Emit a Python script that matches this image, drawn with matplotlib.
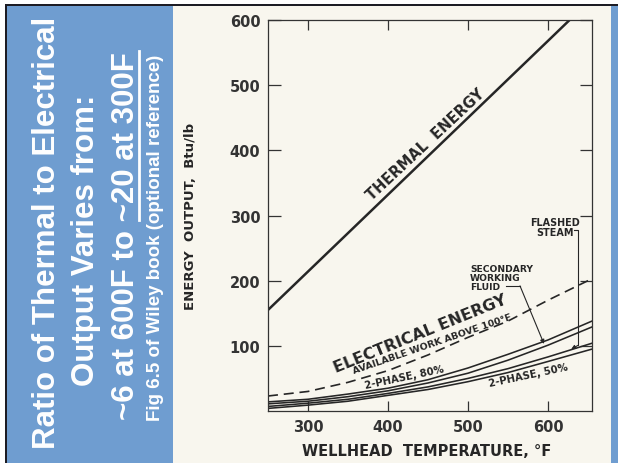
import matplotlib
import matplotlib.pyplot as plt
from matplotlib.patches import Rectangle
from matplotlib.lines import Line2D

matplotlib.use("Agg")

# =========================
# Data (Btu/lb vs wellhead temperature, °F)
# =========================
temp_thermal = [250, 300, 350, 400, 450, 500, 550, 600, 627]
thermal_energy = [155, 214, 273, 332, 391, 450, 509, 568, 600]

temp = [250, 300, 350, 400, 450, 500, 550, 600, 655]
available_work = [23, 30, 44, 62, 86, 113, 138, 170, 203]
secondary_fluid = [14, 18, 26, 35, 48, 66, 87, 109, 138]
two_phase_80 = [11, 15, 22, 31, 43, 58, 78, 101, 129]
flashed_steam = [7, 12, 18, 27, 37, 50, 65, 83, 104]
two_phase_50 = [4, 9, 15, 24, 33, 45, 59, 76, 95]

x_ticks = [300, 400, 500, 600]
y_ticks = [100, 200, 300, 400, 500, 600]

panel_lines = [
    "Ratio of Thermal to Electrical",
    "Output Varies from:",
    "~6 at 600F to ~20 at 300F",
]
underlined_part = "~20 at 300F"
panel_note = "Fig 6.5 of Wiley book (optional reference)"

# =========================
# Colours / helpers
# =========================
BLUE = "#6f9dd0"
PAPER = "#f8f6ee"
INK = "#262626"
W, H = 618, 464


def fx(px):
    return px / W


def fy(py):
    return 1 - py / H


fig = plt.figure(figsize=(W / 100, H / 100), dpi=100, facecolor="white")

# slide background pieces
fig.add_artist(Rectangle((fx(7), 0), fx(173) - fx(7), fy(7), transform=fig.transFigure,
                         facecolor=BLUE, edgecolor="none", zorder=-5))
fig.add_artist(Rectangle((fx(173), 0), fx(611) - fx(173), fy(7), transform=fig.transFigure,
                         facecolor=PAPER, edgecolor="none", zorder=-5))
fig.add_artist(Rectangle((fx(611), 0), 1 - fx(611), fy(7), transform=fig.transFigure,
                         facecolor=BLUE, edgecolor="none", zorder=-5))
fig.add_artist(Rectangle((fx(5), fy(7)), 1 - fx(5), fy(5) - fy(7), transform=fig.transFigure,
                         facecolor="#1c1c24", edgecolor="none", zorder=-4))
fig.add_artist(Rectangle((fx(5), 0), fx(7) - fx(5), fy(5), transform=fig.transFigure,
                         facecolor="#1c1c24", edgecolor="none", zorder=-4))

# =========================
# Chart
# =========================
ax = fig.add_axes([fx(268), fy(412), fx(592) - fx(268), (412 - 21) / H])
ax.set_facecolor("none")

ax.plot(temp_thermal, thermal_energy, color=INK, lw=1.8, solid_capstyle="butt")
ax.plot(temp, available_work, color=INK, lw=1.2, dashes=(6, 3.5))
for series in (secondary_fluid, two_phase_80, flashed_steam, two_phase_50):
    ax.plot(temp, series, color=INK, lw=1.15)

ax.set_xlim(250, 655)
ax.set_ylim(0, 600)
ax.set_xticks(x_ticks)
ax.set_yticks(y_ticks)
ax.tick_params(axis="x", direction="in", length=7, width=0.9, top=True, pad=5.5,
               labelsize=10.5, color="#333333", labelcolor="#333333")
ax.tick_params(axis="y", direction="in", length=9, width=0.9, right=True, pad=5.5,
               labelsize=10.5, color="#333333", labelcolor="#333333")
for lbl in ax.get_xticklabels() + ax.get_yticklabels():
    lbl.set_fontweight("bold")
for sp in ax.spines.values():
    sp.set_color("#333333")
    sp.set_linewidth(0.9)

fig.text(fx(427), fy(452), "WELLHEAD  TEMPERATURE, °F", ha="center", va="center",
         fontsize=10.5, fontweight="bold", color=INK)
fig.text(fx(190), fy(216), "ENERGY  OUTPUT,  Btu/lb", ha="center", va="center",
         rotation=90, fontsize=9.5, fontweight="bold", color=INK)

# curve labels
lab = dict(color=INK, fontweight="bold", ha="center", va="center", rotation_mode="anchor")
ax.text(447, 410, "THERMAL  ENERGY", rotation=43, fontsize=10.5, **lab)
ax.text(440, 120, "ELECTRICAL ENERGY", rotation=22, fontsize=11.5, **lab)
ax.text(456, 104, "AVAILABLE WORK ABOVE 100°F", rotation=19, fontsize=6.8, **lab)
ax.text(421, 52, "2-PHASE, 80%", rotation=12, fontsize=7.3, **lab)
ax.text(576, 55, "2-PHASE, 50%", rotation=12, fontsize=7.3, **lab)

ax.text(502.5, 226, "SECONDARY\nWORKING\nFLUID", ha="left", va="top", fontsize=6.6,
        fontweight="bold", color=INK, linespacing=1.05)
ax.text(609, 298, "FLASHED\nSTEAM", ha="center", va="top", fontsize=6.9,
        fontweight="bold", color=INK, linespacing=1.05, multialignment="center")

# leaders
ax.plot([547, 565], [192, 192], color=INK, lw=0.8)
ax.annotate("", xy=(595, 103), xytext=(565, 192),
            arrowprops=dict(arrowstyle="-|>", color=INK, lw=0.8, mutation_scale=6,
                            shrinkA=0, shrinkB=0))
ax.plot([632, 638, 638], [278, 278, 101], color=INK, lw=0.8)
ax.annotate("", xy=(629, 95), xytext=(638, 101),
            arrowprops=dict(arrowstyle="-|>", color=INK, lw=0.8, mutation_scale=6,
                            shrinkA=0, shrinkB=0))

# =========================
# Blue side panel text
# =========================
big = dict(color="white", fontsize=22.5, fontweight="bold", family="Liberation Sans",
           rotation=90, rotation_mode="anchor", ha="center", va="baseline")
fig.text(fx(55), fy(233), panel_lines[0], **big)
fig.text(fx(94), fy(240), panel_lines[1], **big)
t3 = fig.text(fx(134), fy(236), panel_lines[2], **big)
fig.text(fx(160), fy(238), panel_note, color="white", fontsize=13.5, fontweight="bold",
         family="Liberation Sans", rotation=90, rotation_mode="anchor",
         ha="center", va="baseline")

# underline the last part of line 3
fig.canvas.draw()
r = fig.canvas.get_renderer()
bb = t3.get_window_extent(r)
tmp = fig.text(0, 0, underlined_part, fontsize=22.5, fontweight="bold", family="Liberation Sans")
w_sub = tmp.get_window_extent(r).width
tmp.remove()
fig.add_artist(Line2D([fx(139), fx(139)], [(bb.y1 - w_sub) / H, bb.y1 / H],
                      transform=fig.transFigure, color="white", lw=2))

fig.savefig("out.png", dpi=100)
